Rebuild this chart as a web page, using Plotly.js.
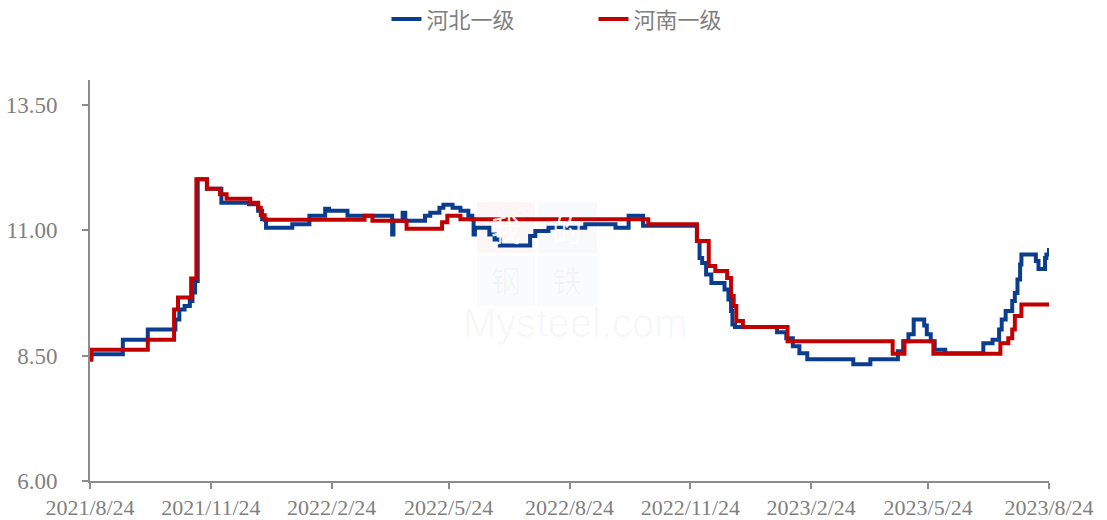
<!DOCTYPE html>
<html>
<head>
<meta charset="utf-8">
<script src="https://cdn.plot.ly/plotly-3.0.1.min.js"></script>
<style>
  html, body { margin: 0; padding: 0; background: #ffffff; }
  #chart { width: 1107px; height: 520px; }
</style>
</head>
<body>
<div id="chart"></div>
<script>
// ---- Data (step changes) ----
const seriesNames = ["河北一级", "河南一级"];

const hebeiDates = [
  "2021-08-24","2021-08-25","2021-09-18","2021-10-07","2021-10-28","2021-10-31","2021-11-04",
  "2021-11-08","2021-11-10","2021-11-12","2021-11-14","2021-11-21","2021-12-02","2021-12-23",
  "2021-12-30","2022-01-02","2022-01-05","2022-01-25","2022-02-07","2022-02-19","2022-02-22",
  "2022-03-08","2022-04-11","2022-04-12","2022-04-19","2022-04-21","2022-05-06","2022-05-10",
  "2022-05-17","2022-05-20","2022-05-27","2022-06-02","2022-06-08","2022-06-11","2022-06-12",
  "2022-06-13","2022-06-24","2022-06-28","2022-07-02","2022-07-25","2022-07-29","2022-08-08",
  "2022-09-05","2022-09-28","2022-10-08","2022-10-19","2022-11-29","2022-12-01","2022-12-03",
  "2022-12-06","2022-12-10","2022-12-20","2022-12-23","2022-12-25","2022-12-26","2022-12-28",
  "2023-01-29","2023-02-05","2023-02-10","2023-02-15","2023-02-21","2023-03-28","2023-04-10",
  "2023-05-01","2023-05-05","2023-05-09","2023-05-13","2023-05-21","2023-05-23","2023-05-26",
  "2023-05-29","2023-06-06","2023-07-05","2023-07-12","2023-07-17","2023-07-19","2023-07-22",
  "2023-07-27","2023-07-29","2023-07-31","2023-08-02","2023-08-03","2023-08-14","2023-08-16",
  "2023-08-21","2023-08-22","2023-08-24"
];
const hebeiValues = [
  8.45, 8.53, 8.82, 9.02, 9.22, 9.42, 9.49,
  9.59, 9.76, 9.99, 12.02, 11.83, 11.55, 11.52,
  11.39, 11.22, 11.05, 11.12, 11.29, 11.43, 11.39,
  11.29, 10.92, 11.19, 11.35, 11.19, 11.29, 11.35,
  11.45, 11.51, 11.45, 11.39, 11.29, 11.22, 10.92,
  11.05, 10.92, 10.82, 10.70, 10.89, 10.99, 11.05,
  11.12, 11.05, 11.29, 11.09, 10.79, 10.45, 10.35,
  10.12, 9.95, 9.82, 9.62, 9.39, 9.12, 9.07,
  8.97, 8.85, 8.69, 8.55, 8.43, 8.33, 8.43,
  8.59, 8.79, 8.93, 9.22, 9.10, 8.93, 8.79,
  8.62, 8.55, 8.75, 8.82, 9.02, 9.22, 9.39,
  9.59, 9.75, 10.02, 10.32, 10.52, 10.39, 10.23,
  10.45, 10.52, 10.65
];

const henanDates = [
  "2021-08-24","2021-08-25","2021-10-07","2021-10-27","2021-10-30","2021-11-09","2021-11-13",
  "2021-11-21","2021-12-01","2021-12-06","2021-12-24","2021-12-30","2022-01-01","2022-01-04",
  "2022-03-21","2022-03-27","2022-04-22","2022-05-19","2022-05-23","2022-06-02","2022-10-23",
  "2022-11-29","2022-12-08","2022-12-13","2022-12-22","2022-12-25","2022-12-27","2022-12-29",
  "2023-01-03","2023-02-06","2023-04-27","2023-05-06","2023-05-28","2023-07-18","2023-07-24",
  "2023-07-27","2023-07-29","2023-08-03","2023-08-24"
];
const henanValues = [
  8.42, 8.62, 8.82, 9.42, 9.66, 10.04, 12.02,
  11.83, 11.72, 11.63, 11.55, 11.45, 11.30, 11.21,
  11.29, 11.19, 11.03, 11.16, 11.29, 11.22, 11.12,
  10.79, 10.29, 10.19, 10.05, 9.69, 9.49, 9.19,
  9.07, 8.79, 8.54, 8.79, 8.54, 8.75, 8.85,
  9.02, 9.29, 9.52, 9.52
];

const xTickDates = ["2021-08-24","2021-11-24","2022-02-24","2022-05-24","2022-08-24",
                    "2022-11-24","2023-02-24","2023-05-24","2023-08-24"];
const xTickLabels = ["2021/8/24","2021/11/24","2022/2/24","2022/5/24","2022/8/24",
                     "2022/11/24","2023/2/24","2023/5/24","2023/8/24"];
const yTickValues = [6.00, 8.50, 11.00, 13.50];

// ---- Chart ----
const axisGray = "#8c8c8c";
const textGray = "#7f7f7f";

const traces = [
  {
    type: "scatter", mode: "lines", name: seriesNames[0],
    x: hebeiDates, y: hebeiValues,
    line: { color: "#0b3d8f", width: 4, shape: "hv" }
  },
  {
    type: "scatter", mode: "lines", name: seriesNames[1],
    x: henanDates, y: henanValues,
    line: { color: "#c00000", width: 4, shape: "hv" }
  }
];

function px(x) { return (x - 90) / 959; }
function py(y) { return (481 - y) / 401; }

const layout = {
  width: 1107, height: 520,
  margin: { l: 90, r: 58, t: 80, b: 39 },
  paper_bgcolor: "#ffffff", plot_bgcolor: "#ffffff",
  showlegend: true,
  legend: {
    orientation: "h", x: 0.525, xanchor: "center",
    yref: "container", y: 0.963, yanchor: "middle",
    font: { family: "Noto Sans CJK SC", size: 22, color: textGray },
    entrywidth: 162, traceorder: "normal"
  },
  xaxis: {
    type: "date",
    range: ["2021-08-24", "2023-08-24"],
    tickmode: "array", tickvals: xTickDates, ticktext: xTickLabels,
    ticks: "outside", ticklen: 6, tickwidth: 2, tickcolor: axisGray,
    showline: true, linecolor: axisGray, linewidth: 2,
    showgrid: false, zeroline: false,
    tickfont: { family: "Liberation Serif", size: 22, color: textGray }
  },
  yaxis: {
    range: [6, 14],
    tickmode: "array", tickvals: yTickValues,
    tickformat: ".2f",
    ticks: "outside", ticklen: 6, tickwidth: 2, tickcolor: axisGray,
    ticklabelstandoff: 20,
    showline: true, linecolor: axisGray, linewidth: 2,
    showgrid: false, zeroline: false,
    tickfont: { family: "Liberation Serif", size: 23, color: textGray }
  },
  shapes: [
    { type: "rect", xref: "paper", yref: "paper", layer: "below",
      x0: px(477), x1: px(535), y0: py(253), y1: py(202),
      fillcolor: "rgba(192,0,0,0.035)", line: { width: 0 } },
    { type: "rect", xref: "paper", yref: "paper", layer: "below",
      x0: px(538), x1: px(597), y0: py(253), y1: py(202),
      fillcolor: "rgba(11,61,143,0.03)", line: { width: 0 } },
    { type: "rect", xref: "paper", yref: "paper", layer: "below",
      x0: px(477), x1: px(535), y0: py(306), y1: py(256),
      fillcolor: "rgba(11,61,143,0.02)", line: { width: 0 } },
    { type: "rect", xref: "paper", yref: "paper", layer: "below",
      x0: px(538), x1: px(597), y0: py(306), y1: py(256),
      fillcolor: "rgba(11,61,143,0.02)", line: { width: 0 } }
  ],
  annotations: [
    { xref: "paper", yref: "paper", x: px(506), y: py(228), showarrow: false,
      text: "我", font: { family: "Noto Sans CJK SC", size: 30, color: "rgba(255,255,255,0.9)" } },
    { xref: "paper", yref: "paper", x: px(567), y: py(228), showarrow: false,
      text: "的", font: { family: "Noto Sans CJK SC", size: 30, color: "rgba(255,255,255,0.9)" } },
    { xref: "paper", yref: "paper", x: px(506), y: py(279), showarrow: false,
      text: "钢", font: { family: "Noto Sans CJK SC", size: 30, color: "rgba(0,0,0,0.03)" } },
    { xref: "paper", yref: "paper", x: px(567), y: py(279), showarrow: false,
      text: "铁", font: { family: "Noto Sans CJK SC", size: 30, color: "rgba(0,0,0,0.03)" } },
    { xref: "paper", yref: "paper", x: px(575), y: py(323), showarrow: false,
      text: "Mysteel.com", font: { family: "Liberation Sans", size: 40, color: "rgba(0,0,0,0.035)" } }
  ]
};

Plotly.newPlot("chart", traces, layout, { displayModeBar: false, staticPlot: true });
</script>
</body>
</html>
